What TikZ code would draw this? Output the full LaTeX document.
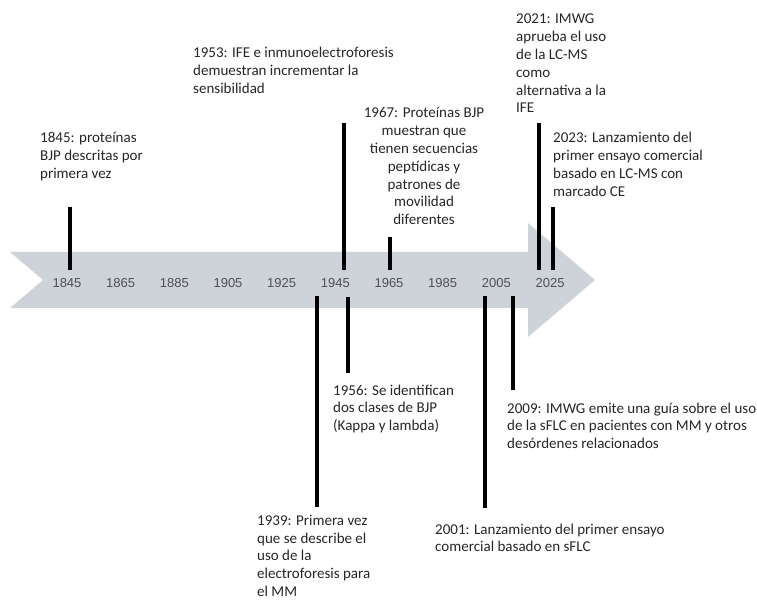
\documentclass[tikz,border=0pt]{standalone}
\usepackage{fontspec}
\setmainfont{Carlito}
\newfontfamily\yearfont{Liberation Sans}
\definecolor{band}{RGB}{206,211,218}
\definecolor{txt}{RGB}{38,38,38}
\definecolor{yr}{RGB}{80,80,80}
\begin{document}
\begin{tikzpicture}[x=1pt,y=-1pt,
  evt/.style={font=\fontsize{15}{17.8}\selectfont, text=txt, inner sep=0pt, align=left, anchor=base west},
  evtc/.style={evt, align=center, anchor=base},
  yearlbl/.style={font=\yearfont\fontsize{13}{14}\selectfont, text=yr, inner sep=0pt},
  tick/.style={line width=3.6pt, black}]
\useasboundingbox (0,0) rectangle (757,601);
% timeline arrow
\fill[band] (10,252) -- (528,252) -- (528,223) -- (595,280) -- (528,337)
  -- (528,308) -- (10,308) -- (43,280) -- cycle;
% year labels
\foreach \yy [count=\i from 0] in {1845,1865,1885,1905,1925,1945,1965,1985,2005,2025}
  \node[yearlbl] (y\yy) at (67+\i*53.67,283) {\yy};
% events (anchor = baseline of last line)
\node[evt] (e1845) at (40,178.6) {1845: proteínas\\BJP descritas por\\primera vez};
\node[evt] (e1953) at (193,93.6) {1953: IFE e inmunoelectroforesis\\demuestran incrementar la\\sensibilidad};
\node[evtc] (e1967) at (424,224.8) {1967: Proteínas BJP\\muestran que\\tienen secuencias\\peptídicas y\\patrones de\\movilidad\\diferentes};
\node[evt] (e2021) at (516,113) {2021: IMWG\\aprueba el uso\\de la LC-MS\\como\\alternativa a la\\IFE};
\node[evt] (e2023) at (553,196.4) {2023: Lanzamiento del\\primer ensayo comercial\\basado en LC-MS con\\marcado CE};
\node[evt] (e1956) at (333,430.6) {1956: Se identifican\\dos clases de BJP\\(Kappa y lambda)};
\node[evt] (e1939) at (257,596.5) {1939: Primera vez\\que se describe el\\uso de la\\electroforesis para\\el MM};
\node[evt] (e2009) at (507,448.6) {2009: IMWG emite una guía sobre el uso\\de la sFLC en pacientes con MM y otros\\desórdenes relacionados};
\node[evt] (e2001) at (435,551.8) {2001: Lanzamiento del primer ensayo\\comercial basado en sFLC};
% tick coordinates
\coordinate (a1845) at (70,207);  \coordinate (b1845) at (70,270);
\coordinate (a1953) at (344,123); \coordinate (b1953) at (344,270);
\coordinate (a1967) at (390,237); \coordinate (b1967) at (390,270);
\coordinate (a2021) at (539,123); \coordinate (b2021) at (539,270);
\coordinate (a2023) at (553,207); \coordinate (b2023) at (553,270);
\coordinate (a1939) at (317,296); \coordinate (b1939) at (317,507);
\coordinate (a1956) at (348,297); \coordinate (b1956) at (348,373);
\coordinate (a2001) at (485,296); \coordinate (b2001) at (485,508);
\coordinate (a2009) at (513,296); \coordinate (b2009) at (513,390);
\foreach \t in {1845,1953,1967,2021,2023,1939,1956,2001,2009}
  \draw[tick] (a\t) -- (b\t);
\end{tikzpicture}
\end{document}
